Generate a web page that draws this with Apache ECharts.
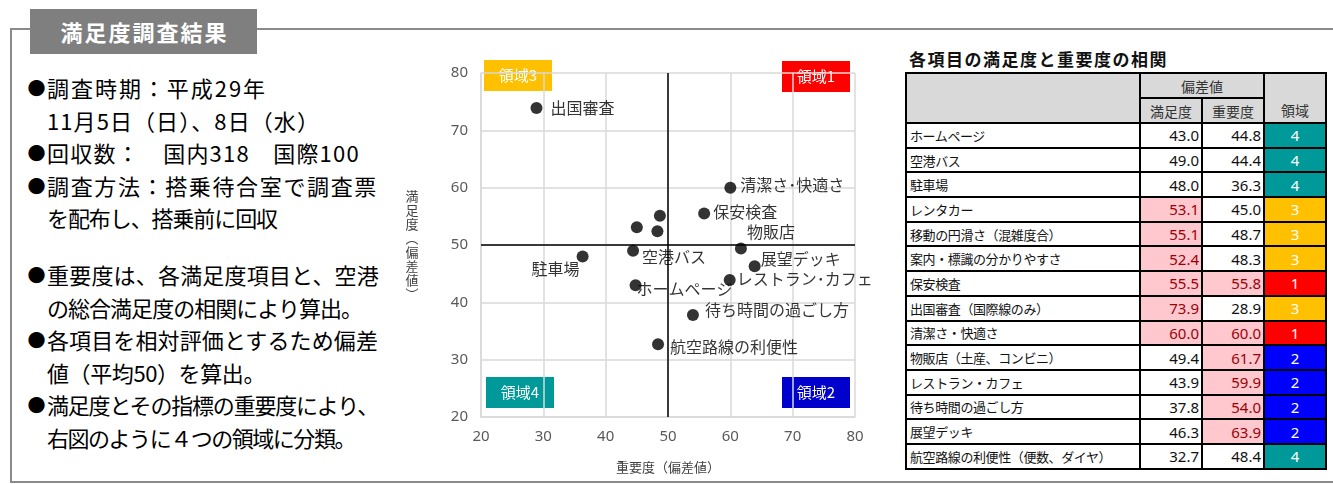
<!DOCTYPE html>
<html><head><meta charset="utf-8">
<script src="https://cdn.jsdelivr.net/npm/echarts@6.0.0/dist/echarts.min.js"></script>
<style>
html,body{margin:0;padding:0;background:#fff;}
body{width:1333px;height:484px;position:relative;overflow:hidden;font-family:'Noto Sans CJK JP','Noto Sans',sans-serif;}
#frame{position:absolute;left:10px;top:28px;width:1360px;height:451px;border:2px solid #8a8a8a;box-sizing:content-box;}
#title{position:absolute;left:30px;top:9px;width:227px;height:45px;background:#7f7f7f;color:#fff;font-weight:bold;font-size:22px;line-height:45px;text-align:center;letter-spacing:2px;text-indent:2px;}
.ln{position:absolute;left:26px;font-size:22px;line-height:32px;height:32px;color:#000;white-space:nowrap;}
.b{display:inline-block;width:21px;font-size:18px;vertical-align:top;line-height:32px;text-align:center;}
.ind{display:inline-block;width:21px;}
.t{display:inline-block;}
#chart{position:absolute;left:390px;top:0;width:500px;height:484px;}
#ttitle{position:absolute;left:909px;top:47px;font-size:17px;font-weight:bold;letter-spacing:1.5px;color:#111;line-height:24px;white-space:nowrap;}
#tbl{position:absolute;left:905px;top:72px;border-collapse:collapse;table-layout:fixed;}
#tbl td{border:2px solid #000;padding:0;height:23px;white-space:nowrap;overflow:hidden;box-sizing:border-box;}
#tbl td.h{background:#d9d9d9;color:#333;font-size:14px;text-align:center;}
#tbl td.nm{font-size:13px;padding-left:3px;color:#111;letter-spacing:-0.4px;}
#tbl td.v{font-family:'Noto Sans',sans-serif;font-size:15px;text-align:right;padding-right:2px;color:#111;}
#tbl td.hi{background:#ffc7ce;color:#9c0006;}
#tbl td.r{font-family:'Noto Sans',sans-serif;font-size:15px;text-align:center;color:#fff;}
</style></head>
<body>
<div id="frame"></div>
<div id="title">満足度調査結果</div>
<div id="left"></div>
<div id="chart"></div>
<div id="ttitle">各項目の満足度と重要度の相関</div>
<table id="tbl"></table>
<script>
// ---- data ----
const items = ['ホームページ','空港バス','駐車場','レンタカー','移動の円滑さ（混雑度合）','案内・標識の分かりやすさ','保安検査','出国審査（国際線のみ）','清潔さ・快適さ','物販店（土産、コンビニ）','レストラン・カフェ','待ち時間の過ごし方','展望デッキ','航空路線の利便性（便数、ダイヤ）'];
const satisfaction = [43.0,49.0,48.0,53.1,55.1,52.4,55.5,73.9,60.0,49.4,43.9,37.8,46.3,32.7];
const importance = [44.8,44.4,36.3,45.0,48.7,48.3,55.8,28.9,60.0,61.7,59.9,54.0,63.9,48.4];
const regionOf = [4,4,4,3,3,3,1,3,1,2,2,2,2,4];
const chartLabels = ['ホームページ','空港バス','駐車場','','','','保安検査','出国審査','清潔さ･快適さ','物販店','レストラン･カフェ','待ち時間の過ごし方','展望デッキ','航空路線の利便性'];
const regionNames = ['領域1','領域2','領域3','領域4'];
const axisTicks = [20,30,40,50,60,70,80];
const midValue = 50;
const leftLines1 = [['●','調査時期：平成29年'],['','11月5日（日）、8日（水）'],['●','回収数：　国内318　国際100'],['●','調査方法：搭乗待合室で調査票'],['','を配布し、搭乗前に回収']];
const leftLines2 = [['●','重要度は、各満足度項目と、空港'],['','の総合満足度の相関により算出。'],['●','各項目を相対評価とするため偏差'],['','値（平均50）を算出。'],['●','満足度とその指標の重要度により、'],['','右図のように４つの領域に分類。']];

// ---- styles / layout ----
const leftEnds1 = [267,320,360,378,277];
const leftEnds2 = [379,362,378,265,378,355];
const regionColors = {1:'#ff0000',2:'#0000ff',3:'#ffc000',4:'#009999'};
const boxColors = {1:'#ff0000',2:'#0000cc',3:'#ffc000',4:'#009999'};
const labelPlace = [
 {position:'right',distance:-5,offset:[0,4]},
 {position:'right',distance:3,offset:[0,6]},
 {position:'left',distance:-3,offset:[0,12]},
 null,null,null,
 {position:'right',distance:3,offset:[0,-2]},
 {position:'right',distance:8,offset:[0,0]},
 {position:'right',distance:4,offset:[0,-3]},
 {position:'right',distance:0,offset:[0,-17]},
 {position:'right',distance:1,offset:[0,-1]},
 {position:'right',distance:6,offset:[0,-5]},
 {position:'right',distance:0,offset:[0,-7]},
 {position:'right',distance:6,offset:[0,3]}
];

// left text
const left = document.getElementById('left');
function addLines(lines, ends, startCenter){
  lines.forEach((l,i)=>{
    const d=document.createElement('div');
    d.className='ln';
    d.style.top=(startCenter + i*32.6 - 16)+'px';
    d.innerHTML = (l[0] ? '<span class="b">'+l[0]+'</span>' : '<span class="ind"></span>') + '<span class="t">'+l[1]+'</span>';
    left.appendChild(d);
    const t = d.querySelector('.t');
    const r = t.getBoundingClientRect();
    const n = Array.from(l[1]).length;
    const ls = (ends[i] - r.right) / n;
    t.style.letterSpacing = ls.toFixed(2)+'px';
  });
}
addLines(leftLines1, leftEnds1, 87);
addLines(leftLines2, leftEnds2, 274);

// table
const tbl = document.getElementById('tbl');
let html = '<colgroup><col style="width:234px"><col style="width:62px"><col style="width:62px"><col style="width:62px"></colgroup>';
html += '<tr style="height:25px"><td class="h" rowspan="2"></td><td class="h" colspan="2">偏差値</td><td class="h" rowspan="2" style="vertical-align:bottom;padding-bottom:2px">領域</td></tr>';
html += '<tr style="height:25px"><td class="h">満足度</td><td class="h">重要度</td></tr>';
items.forEach((n,i)=>{
  const s=satisfaction[i], m=importance[i], r=regionOf[i];
  html += '<tr style="height:24.7px"><td class="nm">'+n+'</td>'+
    '<td class="v'+(s>midValue?' hi':'')+'">'+s.toFixed(1)+'</td>'+
    '<td class="v'+(m>midValue?' hi':'')+'">'+m.toFixed(1)+'</td>'+
    '<td class="r" style="background:'+regionColors[r]+'">'+r+'</td></tr>';
});
tbl.innerHTML = html;

// chart
const chart = echarts.init(document.getElementById('chart'));
const G = {left:91, top:73, width:374, height:344};
const data = items.map((n,i)=>{
  const lp = labelPlace[i];
  return {
    name: chartLabels[i],
    value: [importance[i], satisfaction[i]],
    label: lp ? Object.assign({show:true}, lp) : {show:false}
  };
});
function box(txt, x, y, color){
  return {type:'rect', left:x, top:y, shape:{x:0,y:0,width:68,height:31}, style:{fill:color},
    textContent:{style:{text:txt, fill:'#fff', font:'15px "Noto Sans CJK JP"'}},
    textConfig:{position:'inside'}};
}
const axisCommon = {
  type:'value', min:axisTicks[0], max:axisTicks[axisTicks.length-1], interval:axisTicks[1]-axisTicks[0],
  axisLine:{show:true, lineStyle:{color:'#d9d9d9', width:1.5}},
  axisTick:{show:false},
  splitLine:{show:true, lineStyle:{color:'#d9d9d9', width:1.5}},
  axisLabel:{color:'#595959', fontSize:15, fontFamily:'Noto Sans'}
};
chart.setOption({
  animation:false,
  grid:G,
  xAxis:Object.assign({}, axisCommon, {
    name:'重要度（偏差値）', nameLocation:'middle', nameGap:50,
    nameTextStyle:{color:'#404040', fontSize:13, fontFamily:'Noto Sans CJK JP', verticalAlign:'middle'},
    axisLabel:Object.assign({}, axisCommon.axisLabel, {margin:12})
  }),
  yAxis:Object.assign({}, axisCommon, {
    name:'満\n足\n度\n︵\n偏\n差\n値\n︶', nameLocation:'middle', nameGap:69, nameRotate:0,
    nameTextStyle:{color:'#404040', fontSize:13, lineHeight:14, fontFamily:'Noto Sans CJK JP', align:'center', verticalAlign:'middle'},
    axisLabel:Object.assign({}, axisCommon.axisLabel, {margin:13})
  }),
  graphic:[
    box(regionNames[2], 94, 60, boxColors[3]),
    box(regionNames[0], 392, 61, boxColors[1]),
    box(regionNames[3], 96, 377, boxColors[4]),
    box(regionNames[1], 392, 377, boxColors[2])
  ],
  series:[{
    type:'scatter', symbolSize:12, itemStyle:{color:'#000'},
    label:{show:true, formatter:p=>p.name, color:'#000', fontSize:16, fontFamily:'Noto Sans CJK JP'},
    data:data,
    markLine:{silent:true, symbol:'none', label:{show:false},
      lineStyle:{color:'#000', width:1.5, type:'solid'},
      data:[{xAxis:midValue},{yAxis:midValue}]}
  }]
});
</script>
</body></html>
